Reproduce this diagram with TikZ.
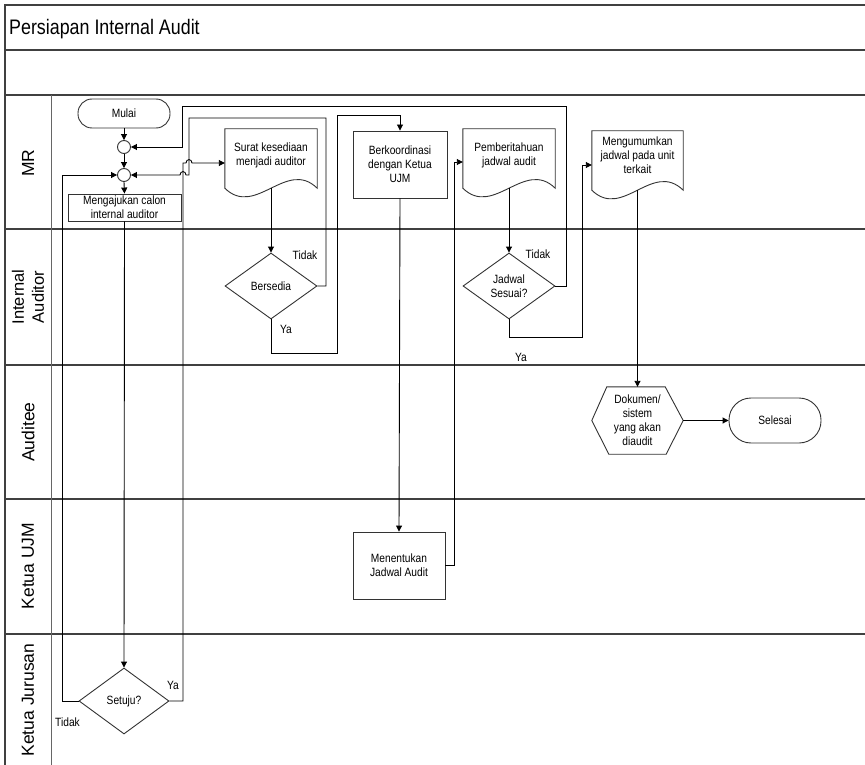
\documentclass[tikz,border=0pt]{standalone}
\usepackage{fontspec}
\setmainfont{Liberation Sans}
\newfontfamily\narrowsans{Liberation Sans}[FakeStretch=0.85]
\usetikzlibrary{arrows.meta,shapes.geometric,calc}
\newcommand{\docwave}[2]{%
  \draw[shapeline] (#1.north west) -- (#1.north east) -- ($(#1.south east)+(0,#2)$)
    .. controls ($(#1.south east)+(-30.7,#2-30)$) and ($(#1.south west)+(30.7,#2+30)$) ..
    ($(#1.south west)+(0,#2)$) -- cycle;
  \coordinate (#1b) at ($(#1.south)+(0,#2)$);}
\begin{document}
\begin{tikzpicture}[x=1pt,y=-1pt,
  frame/.style={draw=black!75, line width=1.4pt},
  thinframe/.style={draw=black!60, line width=0.8pt},
  shapeline/.style={draw=black!80, line width=0.9pt},
  txt/.style={font=\narrowsans\fontsize{12}{14}\selectfont, align=center},
  box/.style={txt, shapeline, inner sep=0pt},
  doc/.style={txt, inner sep=0pt, minimum width=92pt},
  dia/.style={box, diamond, aspect=1.4},
  junc/.style={shapeline, circle, minimum size=13pt, inner sep=0pt},
  arr/.style={draw=black, line width=0.9pt, -{Triangle[length=6pt,width=6pt]}},
  lbl/.style={font=\narrowsans\fontsize{12}{14}\selectfont, inner sep=0pt},
  lane/.style={rotate=90, font=\fontsize{17.5}{17.5}\selectfont, align=center, inner sep=0pt}
]
\useasboundingbox (0,0) rectangle (865,765);
% frame
\draw[frame] (5,765) -- (5,5) -- (865,5);
\draw[frame] (5,50) -- (865,50);
\draw[frame] (5,95) -- (865,95);
\draw[frame] (5,229) -- (865,229);
\draw[frame] (5,365) -- (865,365);
\draw[frame] (5,499) -- (865,499);
\draw[frame] (5,634) -- (865,634);
\draw[thinframe] (51,95) -- (51,765);
\node[anchor=base west, font=\narrowsans\fontsize{21}{24}\selectfont, inner sep=0pt] (title) at (9,35) {Persiapan Internal Audit};
% lane labels
\node[lane] (lmr) at (28,163) {MR};
\node[lane, font=\fontsize{16.5}{19}\selectfont] (lia) at (28,297) {Internal\\[1pt]Auditor};
\node[lane] (laud) at (28,432) {Auditee};
\node[lane] (lujm) at (28,566) {Ketua UJM};
\node[lane] (ljur) at (28,700) {Ketua Jurusan};
% nodes
\node[box, rounded corners=14pt, minimum width=92pt, minimum height=29pt] (start) at (124,113.5) {Mulai};
\node[junc] (j1) at (124,147) {};
\node[junc] (j2) at (124,175) {};
\node[box, minimum width=113pt, minimum height=27pt] (aju) at (124.5,207.5) {Mengajukan calon\\internal auditor};
\node[dia, minimum width=90pt, minimum height=66pt] (setuju) at (124,701) {Setuju?};
\node[doc, minimum height=52pt] (surat) at (271,155) {Surat kesediaan\\menjadi auditor};
\docwave{surat}{7}
\node[dia, minimum width=92pt, minimum height=66pt] (bersedia) at (271,286) {Bersedia};
\node[box, minimum width=94pt, minimum height=67pt] (berk) at (400,164.5) {Berkoordinasi\\dengan Ketua\\UJM};
\node[box, minimum width=92pt, minimum height=67pt] (menent) at (399,565.5) {Menentukan\\Jadwal Audit};
\node[doc, minimum height=52pt] (pember) at (509,155) {Pemberitahuan\\jadwal audit};
\docwave{pember}{7}
\node[dia, minimum width=92pt, minimum height=66pt] (jadwal) at (509,286) {Jadwal\\Sesuai?};
\node[doc, minimum height=48pt, minimum width=91pt] (umum) at (637.5,155) {Mengumumkan\\jadwal pada unit\\terkait};
\docwave{umum}{11}
\node[txt, inner sep=0pt, minimum width=91pt, minimum height=67pt] (dok) at (637.5,420.5) {Dokumen/\\sistem\\yang akan\\diaudit};
\draw[shapeline] (dok.west) -- ($(dok.north west)+(15,0)$) -- ($(dok.north east)+(-18,0)$) -- (dok.east)
  -- ($(dok.south east)+(-17,0)$) -- ($(dok.south west)+(17,0)$) -- cycle;
\node[box, rounded corners=22pt, minimum width=92pt, minimum height=45pt] (selesai) at (775,420.5) {Selesai};
% labels
\node[lbl] (t1) at (305,255) {Tidak};
\node[lbl] (y1) at (286,329) {Ya};
\node[lbl] (t2) at (538,254) {Tidak};
\node[lbl] (y2) at (521,357) {Ya};
\node[lbl] (y3) at (173,685) {Ya};
\node[lbl] (t3) at (67.5,722) {Tidak};
% coordinates for bends
\coordinate (c5) at (62,175);
\coordinate (c6) at (183,163);
\coordinate (c7a) at (326,118);
\coordinate (c7b) at (189,175);
\coordinate (c8a) at (337,353);
\coordinate (c8b) at (337,115);
\coordinate (c10) at (454,162);
\coordinate (c12a) at (566,106);
\coordinate (c12b) at (182,106);
\coordinate (c13a) at (582,337);
\coordinate (c13b) at (582,165);
% connectors
\draw[arr] (start.south) -- (j1.north);
\draw[arr] (j1.south) -- (j2.north);
\draw[arr] (j2.south) -- (aju.north);
\draw[arr] (aju.south) -- (setuju.north);
\draw[arr] (setuju.west) -| (c5) -- (j2.west);
\draw[arr] (setuju.east) -| (c6) -- ($(c6)+(3,0)$) .. controls ($(c6)+(3,-4.5)$) and ($(c6)+(9,-4.5)$) .. ($(c6)+(9,0)$) -- (surat.west |- c6);
\draw[arr] (bersedia.east) -| (c7a) -| (c7b) -- ($(c7b)+(-3,0)$) .. controls ($(c7b)+(-3,-4.5)$) and ($(c7b)+(-9,-4.5)$) .. ($(c7b)+(-9,0)$) -- (j2.east);
\draw[arr] (suratb) -- (bersedia.north);
\draw[arr] (bersedia.south) |- (c8a) -- (c8b) -| (berk.north);
\draw[arr] (berk.south) -- (menent.north);
\draw[arr] (menent.east) -| (c10) -- (pember.west |- c10);
\draw[arr] (pemberb) -- (jadwal.north);
\draw[arr] (jadwal.east) -| (c12a) -- (c12b) |- (j1.east);
\draw[arr] (jadwal.south) |- (c13a) -- (c13b) -- (umum.west |- c13b);
\draw[arr] (umumb) -- (dok.north);
\draw[arr] (dok.east) -- (selesai.west);
\end{tikzpicture}
\end{document}
